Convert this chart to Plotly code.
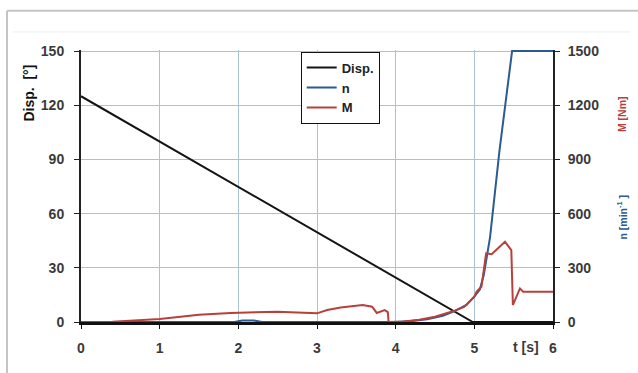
import plotly.graph_objects as go

# ---- data ----
t_disp = [0, 4.98, 6.0]
disp = [125, 0, 0]

t_n = [0, 1.95, 2.05, 2.2, 2.3, 4.0, 4.2, 4.4, 4.5, 4.6, 4.75, 4.9, 5.0, 5.07, 5.12, 5.2, 5.32, 5.48, 6.0]
n = [0, 0, 8, 8, 0, 0, 5, 15, 25, 35, 60, 95, 140, 180, 260, 470, 950, 1500, 1500]

t_m = [0, 0.4, 1.0, 1.5, 1.9, 2.5, 3.0, 3.13, 3.3, 3.58, 3.7, 3.76, 3.86, 3.9, 3.91, 4.1, 4.3, 4.5,
       4.75, 4.87, 5.0, 5.03, 5.09, 5.15, 5.22, 5.39, 5.47, 5.49, 5.58, 5.62, 6.0]
m = [0, 2, 17, 40, 50, 57, 48, 66, 80, 94, 85, 50, 66, 55, 0, 3, 12, 29,
     63, 83, 140, 168, 195, 380, 375, 444, 398, 94, 186, 168, 168]

x_ticks = [0, 1, 2, 3, 4, 5, 6]
y1_ticks = [0, 30, 60, 90, 120, 150]
y2_ticks = [0, 300, 600, 900, 1200, 1500]

FONT = "Liberation Sans"
GRID = "#a9c2d6"

fig = go.Figure()
fig.add_trace(go.Scatter(x=t_disp, y=disp, name="Disp.", mode="lines",
                         line=dict(color="#141414", width=2)))
fig.add_trace(go.Scatter(x=t_n, y=n, name="n", mode="lines", yaxis="y2",
                         line=dict(color="#2b5a95", width=2)))
fig.add_trace(go.Scatter(x=t_m, y=m, name="M", mode="lines", yaxis="y2",
                         line=dict(color="#b8403c", width=2)))

tickfont = dict(family=FONT, size=14, color="#3a3a3a", weight="bold")

fig.update_layout(
    width=638, height=373,
    margin=dict(l=81, r=85, t=50, b=51),
    paper_bgcolor="white", plot_bgcolor="white",
    showlegend=True,
    legend=dict(x=0.4655, y=0.994, xanchor="left", yanchor="top",
                bgcolor="white", bordercolor="#111", borderwidth=1,
                font=dict(family=FONT, size=13, color="#222", weight="bold"),
                tracegroupgap=0, itemwidth=30),
    xaxis=dict(range=[0, 6], tickvals=x_ticks, showgrid=True, gridcolor=GRID, gridwidth=1,
               showline=True, linecolor="#111", linewidth=2.5, ticks="outside", ticklen=4,
               tickcolor="#111", tickfont=tickfont, zeroline=False, ticklabelstandoff=7),
    yaxis=dict(range=[0, 150.6], tickvals=y1_ticks, showgrid=True, gridcolor=GRID, gridwidth=1,
               showline=True, linecolor="#222", linewidth=2, ticks="outside", ticklen=5,
               tickcolor="#222", tickfont=tickfont, zeroline=False, ticklabelstandoff=7),
    yaxis2=dict(range=[0, 1506], tickvals=y2_ticks, overlaying="y", side="right",
                showgrid=False, showline=True, linecolor="#222", linewidth=2,
                ticks="outside", ticklen=5, tickcolor="#222", tickfont=tickfont,
                zeroline=False, ticklabelstandoff=5),
    annotations=[
        dict(text="Disp.  [°]", xref="paper", yref="paper", x=-0.111, y=0.842,
             textangle=-90, showarrow=False, xanchor="center", yanchor="middle",
             font=dict(family=FONT, size=14, color="#111", weight="bold")),
        dict(text="M [Nm]", xref="paper", yref="paper", x=1.146, y=0.764,
             textangle=-90, showarrow=False, xanchor="center", yanchor="middle",
             font=dict(family=FONT, size=10.5, color="#b8403c", weight="bold")),
        dict(text="n [min<sup>-1</sup> ]", xref="paper", yref="paper", x=1.146, y=0.384,
             textangle=-90, showarrow=False, xanchor="center", yanchor="middle",
             font=dict(family=FONT, size=10.5, color="#2b5a95", weight="bold")),
        dict(text="t [s]", xref="paper", yref="paper", x=(526 - 81) / 472, y=-0.093,
             showarrow=False, xanchor="center", yanchor="middle",
             font=dict(family=FONT, size=14, color="#3a3a3a", weight="bold")),
    ],
    shapes=[
        dict(type="line", xref="paper", yref="paper", x0=(7 - 81) / 472, x1=1.25,
             y0=(322 - 12) / 271, y1=(322 - 12) / 271, line=dict(color="#c4c4c4", width=2)),
        dict(type="line", xref="paper", yref="paper", x0=(7 - 81) / 472, x1=(7 - 81) / 472,
             y0=(322 - 12) / 271, y1=-0.3, line=dict(color="#c4c4c4", width=2)),
        dict(type="line", xref="paper", yref="paper", x0=(13 - 81) / 472, x1=(630 - 81) / 472,
             y0=(322 - 33) / 271, y1=(322 - 33) / 271, line=dict(color="#e8eef4", width=1)),
    ],
)

fig.write_html("out.html", config={"displayModeBar": False},
               post_script="document.body.style.margin='0px';")
